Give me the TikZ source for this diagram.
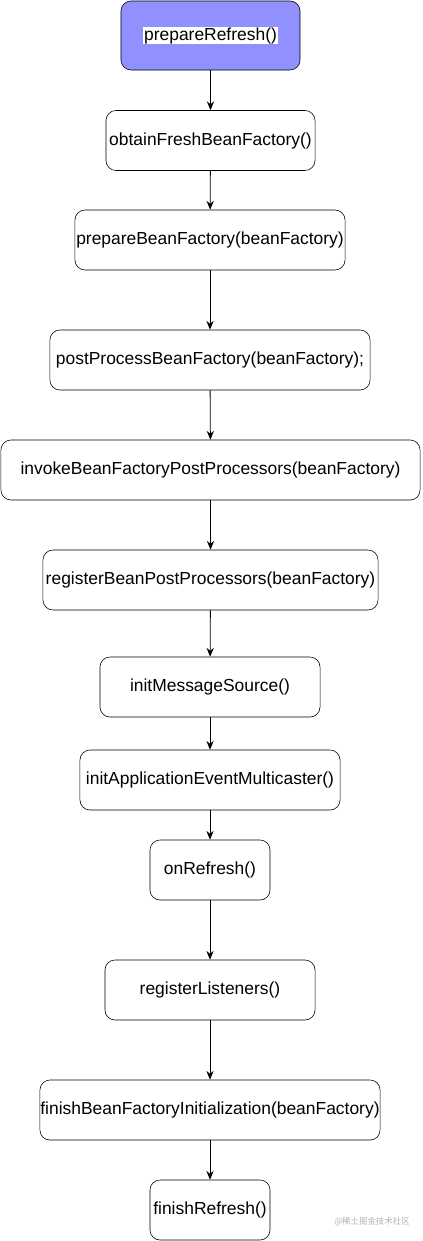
\documentclass[tikz,border=0pt]{standalone}
\usepackage{fontspec}
\setmainfont{Liberation Sans}
\newfontfamily\cjkfont{Noto Sans CJK SC}
\usetikzlibrary{arrows.meta}

\definecolor{startblue}{HTML}{9090FF}

\tikzset{
  stepbox/.style={draw, rounded corners=0.25cm, minimum height=1.5cm, inner sep=0pt, font=\fontsize{12.4}{14}\selectfont},
  flow/.style={-{Stealth[length=2.2mm,width=1.8mm]}, semithick}
}

\begin{document}
\begin{tikzpicture}[x=0.025cm, y=-0.025cm]
  % keep the margins of the original
  \useasboundingbox (0,0) rectangle (422,1241);

  % the steps of refresh()
  \node[stepbox, fill=startblue, minimum width=4.475cm, minimum height=1.725cm] (prep) at (210.5,35.5) {\setlength{\fboxsep}{0.5pt}\colorbox{white}{prepareRefresh()}};
  \node[stepbox, minimum width=5.225cm] (obtain) at (210.5,140.5) {obtainFreshBeanFactory()};
  \node[stepbox, minimum width=6.75cm] (prepbf) at (210,240) {prepareBeanFactory(beanFactory)};
  \node[stepbox, minimum width=8cm] (postbf) at (210,360) {postProcessBeanFactory(beanFactory);};
  \node[stepbox, minimum width=10.475cm] (invoke) at (210.5,470) {invokeBeanFactoryPostProcessors(beanFactory)};
  \node[stepbox, minimum width=8.375cm] (regbpp) at (210.5,580) {registerBeanPostProcessors(beanFactory)};
  \node[stepbox, minimum width=5.5cm] (msg) at (210,687) {initMessageSource()};
  \node[stepbox, minimum width=6.5cm] (multi) at (210,780) {initApplicationEventMulticaster()};
  \node[stepbox, minimum width=3cm] (onref) at (210,870) {onRefresh()};
  \node[stepbox, minimum width=5.25cm] (listen) at (210,990) {registerListeners()};
  \node[stepbox, minimum width=8.5cm] (finbf) at (210,1110) {finishBeanFactoryInitialization(beanFactory)};
  \node[stepbox, minimum width=3cm] (finref) at (210,1210) {finishRefresh()};

  % arrows between the steps
  \foreach \a/\b in {prep/obtain, obtain/prepbf, prepbf/postbf, postbf/invoke, invoke/regbpp,
                     regbpp/msg, msg/multi, multi/onref, onref/listen, listen/finbf, finbf/finref}
    \draw[flow] (\a) -- (\b);

  % watermark
  \node[text=black!30, font=\cjkfont\fontsize{6}{7}\selectfont] (mark) at (372,1222) {@稀土掘金技术社区};
\end{tikzpicture}
\end{document}
